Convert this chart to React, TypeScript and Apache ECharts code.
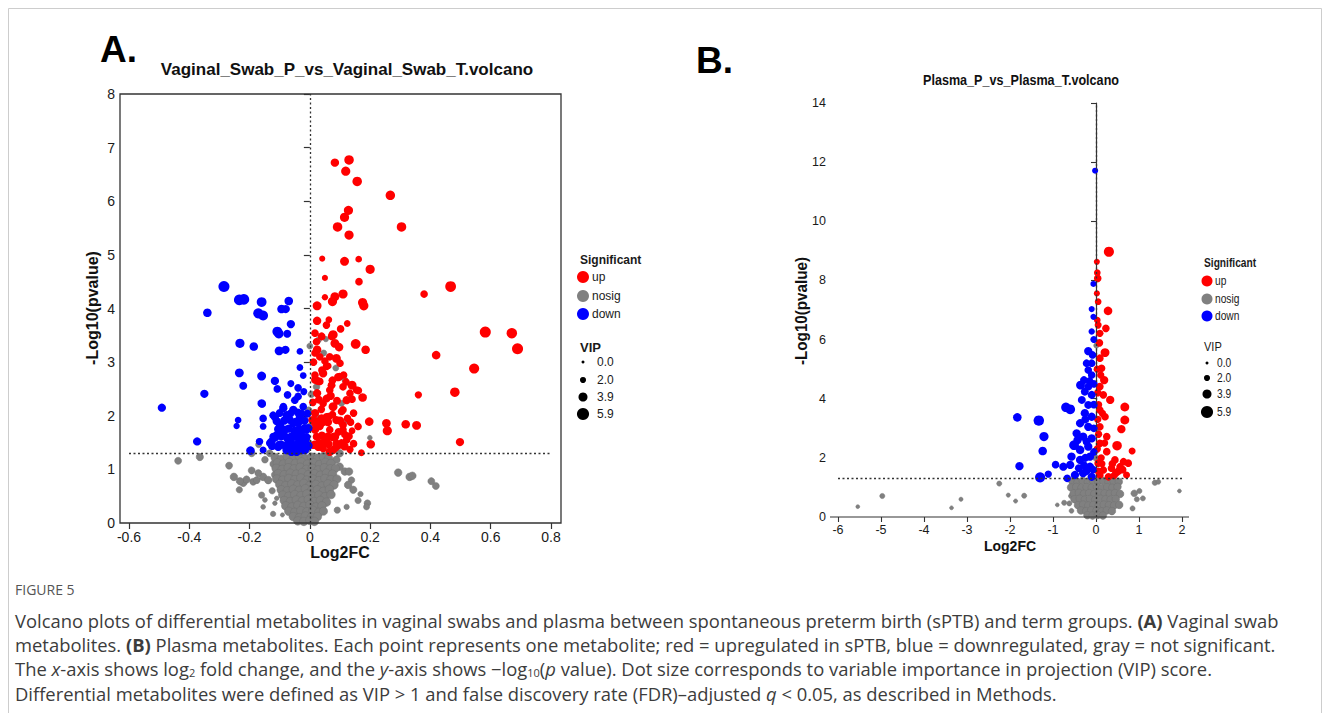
import React, { useEffect, useRef } from "react";
import * as echarts from "echarts";

// ---------- Panel A data: [log2FC, -log10(p), VIP] ----------
const A_UP: number[][] = [
  [0.083,6.72,3.5],[0.130,6.77,4.2],[0.119,6.56,4],[0.157,6.37,4.2],[0.267,6.11,4.2],[0.128,5.83,4],[0.115,5.70,4],[0.092,5.52,4.2],[0.304,5.52,4.2],[0.130,5.37,4],
  [0.041,4.93,2],[0.115,4.88,3.8],[0.162,4.92,2.4],[0.200,4.73,4],[0.050,4.57,2],[0.163,4.50,3],[0.467,4.41,5],[0.379,4.27,3],
  [0.050,4.21,2.2],[0.083,4.22,3.8],[0.110,4.27,4],[0.075,4.13,4],[0.175,4.11,4],[0.179,4.05,4],[0.024,4.05,3.8],
  [0.024,3.77,3.5],[0.055,3.69,3],[0.063,3.79,2.4],[0.124,3.72,2.4],[0.102,3.62,3],[0.582,3.56,5.2],[0.670,3.54,4.8],[0.689,3.25,5.2],
  [0.077,3.51,4],[0.039,3.48,3.2],[0.152,3.34,4.4],[0.185,3.23,3.6],[0.419,3.13,3.6],[0.083,3.35,3.8],[0.097,3.28,3.6],[0.024,3.23,3.6],[0.088,3.07,3.8],
  [0.545,2.88,4.6],[0.040,2.85,3],[0.061,2.93,2.4],[0.094,2.72,3.4],[0.112,2.76,3],[0.140,2.57,3.8],[0.161,2.47,3],[0.175,2.34,3.6],[0.481,2.44,4.2],[0.360,2.39,2.8],
  [0.072,2.57,3.2],[0.024,2.42,3.4],[0.069,2.37,3.4],[0.122,2.29,3.4],[0.044,2.23,3],[0.077,2.17,3.8],[0.105,2.08,3],
  [0.197,1.89,3.6],[0.254,1.86,3.6],[0.257,1.72,4],[0.318,1.84,3.6],[0.354,1.82,3.8],[0.498,1.51,3.4],[0.202,1.47,3.6],[0.140,1.72,2.4],[0.171,1.31,2.4],[0.133,1.37,2.8],
  [0.116,1.65,3],[0.105,1.49,3.2],[0.083,1.61,3.6],[0.110,1.83,3.2],[0.033,1.83,3.6],[0.017,1.74,3.4],[0.050,1.52,3.6],[0.028,1.42,3.4],[0.066,1.33,3.6],
  [0.044,2.79,3.4],[0.017,2.67,3.2],[0.033,3.10,3],[0.022,3.38,3],[0.061,1.98,3.4],[0.088,1.92,3.4],[0.017,2.05,3.4],[0.039,1.95,3.4],
  [0.072,3.48,3],[0.066,3.10,3],[0.055,2.92,3],[0.099,2.73,3],[0.033,2.64,3],[0.066,2.48,3],[0.110,2.54,3],[0.133,2.42,3],[0.155,2.48,3],
  [0.110,2.11,3],[0.055,1.98,3],[0.033,1.80,3],[0.066,1.74,3],[0.110,1.74,3],[0.022,1.61,3],[0.055,1.55,3],[0.088,1.49,3],[0.122,1.55,3],
  [0.044,1.39,3],[0.077,1.36,3],[0.017,1.86,3],[0.017,2.76,3],[0.017,3.17,3],[0.017,3.54,3],
  [0.030,1.50,3],[0.060,1.62,3],[0.095,1.70,3],[0.045,1.88,3],[0.075,2.02,3],[0.012,1.45,3],[0.085,1.40,3],[0.125,1.95,3],[0.145,2.05,3],[0.160,1.80,3],[0.038,2.12,3],[0.010,2.25,3],
  [0.015,1.46,3.4],[0.040,1.44,3.4],[0.062,1.47,3.4],[0.095,1.45,3.4],[0.115,1.43,3.4],[0.145,1.48,3],
  [0.040,1.63,3.4],[0.075,1.60,3.4],[0.130,1.62,3],
  [0.008,1.92,3.4],[0.020,1.90,3.4],[0.060,1.88,3.4],[0.100,1.91,3.4],[0.135,1.88,3],
  [0.030,2.30,3.2],[0.055,2.32,3.2],[0.090,2.28,3.2],[0.140,2.31,3],
  [0.025,2.65,3.2],[0.075,2.66,3.2],[0.120,2.63,3],
  [0.012,3.00,3],[0.050,3.02,3],[0.100,2.98,3],
];

const A_DOWN: number[][] = [
  [-0.285,4.41,5.2],[-0.234,4.16,5],[-0.219,4.17,5],[-0.160,4.12,4.4],[-0.340,3.92,3.6],[-0.171,3.91,4.6],[-0.155,3.87,4.4],[-0.094,3.99,3.6],[-0.080,3.99,3.4],[-0.070,4.14,3.6],[-0.063,3.71,3.4],
  [-0.108,3.57,4.4],[-0.103,3.53,4.2],[-0.075,3.53,3.2],[-0.232,3.35,4],[-0.186,3.29,3.6],[-0.102,3.21,3.8],[-0.081,3.23,3.4],[-0.033,3.20,2.4],[-0.033,2.90,2.4],[-0.022,2.75,2.4],
  [-0.234,2.80,3.8],[-0.160,2.74,3.8],[-0.221,2.56,3.2],[-0.116,2.65,3.4],[-0.108,2.50,3],[-0.074,2.39,3],[-0.350,2.41,3.4],[-0.039,2.52,3],
  [-0.160,2.23,3.4],[-0.491,2.15,3.4],[-0.088,2.14,3.4],[-0.155,1.95,3],[-0.238,1.92,2.4],[-0.243,1.81,2.2],[-0.155,1.80,2.4],[-0.374,1.52,3.4],[-0.197,1.35,3.6],[-0.166,1.52,2.6],[-0.155,1.36,2.6],
  [-0.116,1.98,3.4],[-0.110,1.64,3.4],[-0.127,1.52,3.4],[-0.083,1.74,3.4],[-0.061,1.61,3.6],[-0.039,1.49,3.6],[-0.028,1.36,3.6],[-0.077,1.36,3.6],[-0.055,1.86,3.4],[-0.033,1.98,3.4],[-0.022,2.17,3],[-0.050,2.29,3],
  [-0.099,1.80,3.4],[-0.077,2.01,3.4],[-0.011,1.74,3.4],[-0.011,1.42,3.6],[-0.094,1.46,3.4],[-0.044,1.33,3.6],
  [-0.158,2.22,3],[-0.168,1.52,2.6],[-0.039,2.36,3],[-0.055,2.11,3.4],[-0.088,2.17,3],[-0.122,2.01,3],[-0.028,2.05,3],[-0.099,1.83,3.4],[-0.066,1.92,3.4],[-0.039,1.86,3.4],[-0.017,1.77,3.4],
  [-0.122,1.61,3],[-0.088,1.67,3.4],[-0.055,1.61,3.6],[-0.028,1.58,3.6],[-0.105,1.42,3.4],[-0.072,1.42,3.6],[-0.044,1.39,3.6],[-0.017,1.36,3.6],[-0.061,1.33,3.6],[-0.133,1.49,3],
  [-0.063,2.60,2.6],[-0.020,2.45,2.6],[-0.030,1.65,3.6],[-0.070,1.50,3.6],[-0.015,1.55,3.6],[-0.050,1.72,3.6],
  [-0.125,1.44,3.6],[-0.100,1.46,3.6],[-0.080,1.44,3.6],[-0.060,1.47,3.6],[-0.040,1.45,3.6],[-0.020,1.46,3.6],[-0.005,1.44,3.6],
  [-0.115,1.60,3.6],[-0.095,1.62,3.6],[-0.075,1.59,3.6],[-0.045,1.62,3.6],[-0.012,1.60,3.6],
  [-0.105,1.75,3.4],[-0.070,1.76,3.4],[-0.035,1.74,3.4],[-0.005,1.77,3.4],
  [-0.110,1.90,3.4],[-0.085,1.91,3.4],[-0.045,1.89,3.4],[-0.018,1.91,3.4],
  [-0.100,2.05,3.2],[-0.065,2.04,3.2],[-0.040,2.06,3.2],[-0.008,2.04,3.2],
];

const A_NOSIG: number[][] = [
  [-0.437,1.16,2.6],[-0.365,1.23,2.8],[-0.268,1.07,2.6],[-0.193,0.98,2.6],[-0.252,0.86,3],[-0.221,0.75,3],[-0.234,0.62,2.2],[-0.188,0.77,2.6],[-0.155,0.86,3],[-0.138,0.80,3],
  [-0.160,0.52,2.2],[-0.149,0.43,1.2],[-0.155,0.30,1.2],[-0.122,0.17,1.6],[-0.116,0.37,1],[-0.110,0.46,1],[-0.091,0.15,0.8],[-0.149,1.18,2.4],[-0.193,1.30,2.6],[-0.133,1.30,2.6],
  [-0.171,0.93,2.6],[-0.210,0.81,2.8],[-0.232,0.78,2.8],[-0.176,0.80,2.6],[-0.125,0.60,2.2],[-0.120,1.10,3],[-0.115,0.90,3],
  [0.293,0.94,3],[0.331,0.86,3],[0.340,0.88,3],[0.403,0.78,2.6],[0.418,0.69,2.6],[0.191,0.37,2.4],[0.188,0.30,2],[0.168,0.54,1.6],[0.160,0.42,2.2],[0.122,0.30,1.6],[0.091,0.24,2.2],
  [0.138,0.80,2.4],[0.127,0.71,3],[0.144,0.62,2.8],[0.116,0.96,3],[0.099,1.05,3],[0.088,1.18,3],[0.099,1.30,3],[0.077,1.36,3],[0.130,0.96,3],
  [-0.115,1.22,3.6],[-0.095,1.19,3.6],[-0.075,1.24,3.6],[-0.055,1.21,3.6],[-0.035,1.25,3.6],[-0.015,1.20,3.6],[0.005,1.23,3.6],[0.025,1.21,3.6],[0.045,1.24,3.6],[0.062,1.20,3.6],
  [-0.108,1.12,3.6],[-0.088,1.10,3.6],[-0.068,1.13,3.6],[-0.048,1.11,3.6],[-0.028,1.14,3.6],[-0.008,1.10,3.6],[0.012,1.12,3.6],[0.032,1.09,3.6],[0.052,1.13,3.6],[0.070,1.11,3.6],
  [-0.112,1.02,3.6],[-0.092,1.00,3.6],[-0.072,1.03,3.6],[-0.052,1.01,3.6],[-0.032,1.04,3.6],[-0.012,1.00,3.6],[0.008,1.02,3.6],[0.028,0.99,3.6],[0.048,1.03,3.6],[0.068,1.01,3.6],[0.085,1.02,3.4],
  [-0.105,0.92,3.6],[-0.085,0.90,3.6],[-0.065,0.93,3.6],[-0.045,0.91,3.6],[-0.025,0.94,3.6],[-0.005,0.90,3.6],[0.015,0.92,3.6],[0.035,0.89,3.6],[0.055,0.93,3.6],[0.075,0.91,3.6],
  [-0.110,0.82,3.6],[-0.090,0.80,3.6],[-0.070,0.83,3.6],[-0.050,0.81,3.6],[-0.030,0.84,3.6],[-0.010,0.80,3.6],[0.010,0.82,3.6],[0.030,0.79,3.6],[0.050,0.83,3.6],[0.070,0.81,3.6],[0.090,0.82,3.4],
  [-0.100,0.72,3.6],[-0.080,0.70,3.6],[-0.060,0.73,3.6],[-0.040,0.71,3.6],[-0.020,0.74,3.6],[0.000,0.70,3.6],[0.020,0.72,3.6],[0.040,0.69,3.6],[0.060,0.73,3.6],[0.080,0.71,3.6],
  [-0.095,0.62,3.6],[-0.075,0.60,3.6],[-0.055,0.63,3.6],[-0.035,0.61,3.6],[-0.015,0.64,3.6],[0.005,0.60,3.6],[0.025,0.62,3.6],[0.045,0.59,3.6],[0.065,0.63,3.6],
  [-0.090,0.52,3.6],[-0.070,0.50,3.6],[-0.050,0.53,3.6],[-0.030,0.51,3.6],[-0.010,0.54,3.6],[0.010,0.50,3.6],[0.030,0.52,3.6],[0.050,0.49,3.6],[0.070,0.53,3.6],
  [-0.085,0.42,3.6],[-0.065,0.40,3.6],[-0.045,0.43,3.6],[-0.025,0.41,3.6],[-0.005,0.44,3.6],[0.015,0.40,3.6],[0.035,0.42,3.6],[0.055,0.39,3.6],
  [-0.080,0.32,3.6],[-0.060,0.30,3.6],[-0.040,0.33,3.6],[-0.020,0.31,3.6],[0.000,0.34,3.6],[0.020,0.30,3.6],[0.040,0.32,3.6],
  [-0.070,0.22,3.6],[-0.050,0.20,3.6],[-0.030,0.23,3.6],[-0.010,0.21,3.6],[0.010,0.24,3.6],[0.030,0.20,3.6],[0.045,0.22,3.4],
  [-0.055,0.12,3.6],[-0.035,0.10,3.6],[-0.015,0.13,3.6],[0.005,0.11,3.6],[0.025,0.12,3.6],
  [-0.040,0.04,3.6],[-0.020,0.03,3.6],[0.000,0.05,3.6],[0.015,0.03,3.6],
  [0.028,3.41,2],[0.053,3.43,1.6],[0.086,2.89,2],[0.116,2.67,2],[0.105,2.23,2],[0.046,3.17,2],[0.022,2.54,2.4],[0.022,1.98,2.4],[0.199,1.59,1.2],[0.122,1.90,1],
  [-0.005,1.50,2.6],[0.000,1.80,2.6],[-0.004,2.10,2.6],[0.005,2.40,2.4],[0.000,3.30,2],[-0.010,1.38,3],[-0.170,1.46,2],
];

// ---------- Panel B data ----------
const B_UP: number[][] = [
  [0.30,8.97,4.6],[0.02,8.63,2],[0.03,8.26,2.4],[0.04,8.07,3],[0.02,7.56,2],[0.05,7.28,2.4],[0.28,6.97,3.6],[0.03,6.66,2.4],[0.05,6.49,2.6],[0.23,6.38,3],
  [0.09,6.21,2.8],[0.08,5.89,3],[0.21,5.56,3.8],[0.09,5.37,3],[0.13,5.03,3],[0.19,4.63,3.4],[0.09,4.41,3],[0.17,4.13,3],[0.33,3.96,3.4],[0.67,3.72,3.8],
  [0.67,3.28,3.8],[0.09,3.62,3],[0.21,3.39,3],[0.59,2.97,3.4],[0.09,3.05,3],[0.25,2.72,3],[0.49,2.41,4.2],[0.84,2.23,2.6],[0.09,2.49,3],[0.25,2.21,3],
  [0.44,1.93,3],[0.64,1.87,3],[0.56,1.70,3],[0.36,1.65,3],[0.71,1.42,2.6],[0.46,1.48,3],[0.17,1.59,3],[0.05,1.82,3],[0.29,1.36,3],[0.09,1.42,3],[0.75,1.82,3],
  [0.03,5.00,2.8],[0.04,4.20,2.8],[0.06,3.80,2.8],[0.04,3.30,2.8],[0.06,2.80,2.8],[0.03,2.30,2.8],[0.12,2.00,2.8],[0.05,1.55,2.8],[0.15,3.50,2.8],[0.11,4.80,2.8],
  [0.20,2.50,2.8],[0.14,1.80,2.6],[0.38,1.80,3],[0.52,1.55,3],[0.62,1.60,3],[0.42,1.40,2.8],
];

const B_DOWN: number[][] = [
  [-0.02,11.71,2],[-0.06,7.88,2],[-0.10,7.03,2],[-0.06,6.77,2],[-0.10,6.27,2.2],[-0.18,5.61,3.4],[-0.08,5.48,3],[-0.10,5.20,3],[-0.18,4.97,3],[-0.10,4.80,3],
  [-0.28,4.63,3.2],[-0.36,4.46,3.8],[-0.18,4.41,3.2],[-0.26,4.24,3.2],[-0.10,4.13,3.2],[-0.33,3.96,3.2],[-0.18,3.79,3.2],[-0.70,3.71,4.2],[-0.60,3.64,4.4],[-1.83,3.37,3.6],
  [-1.33,3.26,4.8],[-0.26,3.51,3.4],[-0.10,3.39,3.4],[-0.37,3.17,3.4],[-0.18,3.05,3.4],[-1.21,2.72,4],[-0.45,2.83,3.4],[-0.30,2.72,3.4],[-0.10,2.66,3.4],[-0.51,2.43,4.4],
  [-0.37,2.27,3.6],[-0.18,2.38,3.4],[-1.24,2.23,3.6],[-0.57,2.04,3.4],[-0.37,1.93,3.4],[-0.14,2.04,3.4],[-1.78,1.72,3.4],[-0.94,1.77,3],[-0.76,1.70,3.4],[-0.60,1.76,3.4],
  [-1.11,1.45,2.8],[-1.30,1.34,4.6],[-0.67,1.31,3],[-0.30,1.48,3.4],[-0.10,1.36,3.4],[-0.49,1.42,3.4],[-0.14,1.70,3.4],
  [-0.05,6.00,2.6],[-0.22,5.20,3],[-0.05,4.50,3],[-0.25,3.30,3.2],[-0.05,3.00,3],[-0.22,2.55,3.2],[-0.05,2.20,3],[-0.25,2.00,3.2],[-0.07,1.60,3],[-0.22,1.55,3.2],
  [-0.40,1.65,3.2],[-0.05,3.80,3],[-0.15,4.60,3],[-0.43,2.60,3.4],[-0.28,1.75,3.2],
];

const B_NOSIG: number[][] = [
  [-5.54,0.35,0.6],[-4.97,0.71,1.4],[-3.36,0.31,0.6],[-3.14,0.60,0.8],[-2.25,1.13,1.4],[-2.04,0.74,0.8],[-1.87,0.54,0.8],[-1.67,0.72,1.4],[-0.90,0.41,0.6],[-0.74,0.48,1.4],
  [-0.62,0.46,1.4],[-0.58,0.71,1.4],[-0.57,0.21,1.2],[0.89,0.80,2.4],[1.01,0.88,1.4],[0.95,0.60,1.4],[1.09,0.63,1.4],[0.85,0.29,1.4],[1.37,1.16,1.6],[1.45,1.19,1.2],[1.94,0.88,0.6],
  [-0.55,1.21,3],[-0.43,1.18,3],[-0.31,1.22,3],[-0.19,1.19,3],[-0.07,1.23,3],[0.05,1.20,3],[0.17,1.22,3],[0.29,1.18,3],[0.41,1.21,3],[0.53,1.19,3],
  [-0.58,1.00,3],[-0.46,1.02,3],[-0.34,0.98,3],[-0.22,1.01,3],[-0.10,0.99,3],[0.02,1.02,3],[0.14,0.98,3],[0.26,1.01,3],[0.38,0.99,3],[0.50,1.02,3],
  [-0.52,0.80,3],[-0.40,0.82,3],[-0.28,0.79,3],[-0.16,0.81,3],[-0.04,0.78,3],[0.08,0.82,3],[0.20,0.80,3],[0.32,0.79,3],[0.44,0.81,3],[0.56,0.78,3],
  [-0.50,0.60,3],[-0.38,0.62,3],[-0.26,0.59,3],[-0.14,0.61,3],[-0.02,0.58,3],[0.10,0.62,3],[0.22,0.60,3],[0.34,0.59,3],[0.46,0.61,3],
  [-0.42,0.40,3],[-0.30,0.42,3],[-0.18,0.39,3],[-0.06,0.41,3],[0.06,0.38,3],[0.18,0.42,3],[0.30,0.40,3],[0.42,0.39,3],[0.54,0.41,3],
  [-0.35,0.22,3],[-0.23,0.20,3],[-0.11,0.23,3],[0.01,0.21,3],[0.13,0.19,3],[0.25,0.22,3],[0.37,0.20,3],
  [-0.20,0.06,3],[-0.08,0.05,3],[0.04,0.07,3],[0.16,0.05,3],
  [0.01,5.80,1.6],[0.02,3.00,2],[-0.01,2.00,2],
];

// ---------- axes, legend labels ----------
const THRESHOLD = 1.3;
const SIG_LABELS = ["up", "nosig", "down"];
const SIG_COLORS = ["#ff0000", "#808080", "#0000ff"];
const VIP_VALUES = [0.0, 2.0, 3.9, 5.9];
const VIP_LABELS = ["0.0", "2.0", "3.9", "5.9"];
const A_TITLE = "Vaginal_Swab_P_vs_Vaginal_Swab_T.volcano";
const B_TITLE = "Plasma_P_vs_Plasma_T.volcano";
const Y_NAME = "-Log10(pvalue)";
const X_NAME = "Log2FC";
const CAPTION_LINES = [
  "Volcano plots of differential metabolites in vaginal swabs and plasma between spontaneous preterm birth (sPTB) and term groups. {b|(A)} Vaginal swab",
  "metabolites. {b|(B)} Plasma metabolites. Each point represents one metabolite; red = upregulated in sPTB, blue = downregulated, gray = not significant.",
  "The {i|x}-axis shows log{s|2} fold change, and the {i|y}-axis shows −log{s|10}({i|p} value). Dot size corresponds to variable importance in projection (VIP) score.",
  "Differential metabolites were defined as VIP > 1 and false discovery rate (FDR)–adjusted {i|q} < 0.05, as described in Methods.",
];

const vipSize = (v: number) => 3 + v * 1.55;

const ARIAL = '"Liberation Sans", Arial, sans-serif';
const CAP = '"Open Sans", "Noto Sans", sans-serif';
const CAP_SIZE = 18.4;

function txt(x: number, y: number, text: string, font: string, opts: any = {}) {
  return {
    type: "text",
    x,
    y,
    rotation: opts.rotation || 0,
    scaleX: opts.scaleX || 1,
    style: {
      text,
      font,
      fill: opts.fill || "#1a1a1a",
      align: opts.align || "left",
      verticalAlign: opts.va || "middle",
      textAlign: opts.align || "left",
      textVerticalAlign: opts.va || "middle",
      rich: opts.rich,
    },
  };
}

export default function App() {
  const ref = useRef<HTMLDivElement>(null);

  useEffect(() => {
    if (!ref.current) return;
    const chart = echarts.init(ref.current, undefined, { renderer: "svg" });

    const A = { left: 129, top: 94, width: 422, height: 429, frameL: 120, frameR: 561 };
    const B = { left: 838, top: 103, width: 344, height: 414, axisL: 830, axisR: 1189 };

    const markLine = {
      silent: true,
      symbol: "none",
      label: { show: false },
      lineStyle: { type: [2, 2.5], color: "#333", width: 1.3 },
      data: [{ yAxis: THRESHOLD }, { xAxis: 0 }],
    };

    const mkSeries = (data: number[][], idx: number, gi: number, withMark: boolean) => ({
      type: "scatter",
      xAxisIndex: gi,
      yAxisIndex: gi,
      data,
      symbol: "circle",
      symbolSize: (v: number[]) => vipSize(v[2]),
      itemStyle: idx === 1
        ? { color: "#808080", borderColor: "#727272", borderWidth: 0.5, opacity: 1 }
        : { color: SIG_COLORS[idx], opacity: 1 },
      emphasis: { disabled: true },
      markLine: withMark ? markLine : undefined,
      z: idx === 1 ? 2 : 3,
    });

    const legend = (x: number, sigY: number[], vipY: number[], titleY: number, vipTitleY: number, fs: number, r: number, textDx: number, vipDx: number, vipBold: boolean, sx: number) => {
      const els: any[] = [];
      els.push(txt(x - 3, titleY, "Significant", `bold ${fs}px ${ARIAL}`, { scaleX: sx }));
      SIG_LABELS.forEach((l, i) => {
        els.push({ type: "circle", shape: { cx: x, cy: sigY[i], r }, style: { fill: SIG_COLORS[i] } });
        els.push(txt(x + textDx, sigY[i], l, `${fs}px ${ARIAL}`, { scaleX: sx }));
      });
      els.push(txt(x - 3, vipTitleY, "VIP", `${vipBold ? "bold " : ""}${fs + 1}px ${ARIAL}`, { scaleX: sx }));
      VIP_LABELS.forEach((l, i) => {
        els.push({ type: "circle", shape: { cx: x, cy: vipY[i], r: vipSize(VIP_VALUES[i]) / 2 }, style: { fill: "#000" } });
        els.push(txt(x + vipDx, vipY[i], l, `${fs}px ${ARIAL}`, { scaleX: sx }));
      });
      return els;
    };

    const capRich = {
      b: { fontFamily: CAP, fontSize: CAP_SIZE, fontWeight: "bold", fill: "#3c3c3c" },
      i: { fontFamily: CAP, fontSize: CAP_SIZE, fontStyle: "italic", fill: "#3c3c3c" },
      s: { fontFamily: CAP, fontSize: 11, fill: "#3c3c3c", verticalAlign: "bottom", padding: [8, 0, 0, 0] },
    };

    const graphics: any[] = [
      { type: "rect", shape: { x: 8.5, y: 8.5, width: 1313, height: 720 }, style: { fill: "none", stroke: "#cdcdcd", lineWidth: 1 }, silent: true },
      { type: "rect", shape: { x: A.frameL, y: A.top, width: A.frameR - A.frameL, height: A.height }, style: { fill: "none", stroke: "#333", lineWidth: 1.3 }, z: 10 },
      { type: "line", shape: { x1: B.axisL, y1: B.top + B.height, x2: B.axisR, y2: B.top + B.height }, style: { stroke: "#333", lineWidth: 1.2 }, z: 10 },
      txt(100, 49, "A.", `bold 37px ${ARIAL}`, { fill: "#000" }),
      txt(696, 60, "B.", `bold 37px ${ARIAL}`, { fill: "#000" }),
      txt(347, 69, A_TITLE, `bold 17px ${ARIAL}`, { align: "center", fill: "#111" }),
      txt(1021, 80, B_TITLE, `bold 15px ${ARIAL}`, { align: "center", fill: "#111", scaleX: 0.84 }),
      txt(92, 308, Y_NAME, `bold 16px ${ARIAL}`, { align: "center", rotation: Math.PI / 2, fill: "#111" }),
      txt(340, 552, X_NAME, `bold 16px ${ARIAL}`, { align: "center", fill: "#111" }),
      txt(801, 311, Y_NAME, `bold 16px ${ARIAL}`, { align: "center", rotation: Math.PI / 2, fill: "#111", scaleX: 0.95 }),
      txt(1010, 546, X_NAME, `bold 14px ${ARIAL}`, { align: "center", fill: "#111" }),
      ...legend(583, [277, 296, 314], [362, 380, 397, 414], 260, 347, 12, 6, 9, 14, true, 1),
      ...legend(1207, [281, 299, 316], [363, 378, 394, 412], 263, 347, 12, 5.5, 8, 10, false, 0.85),
      txt(15, 589, "FIGURE 5", `14px ${CAP}`, { fill: "#555" }),
      ...CAPTION_LINES.map((l, i) =>
        txt(15, 620 + i * 24.4, l, `${CAP_SIZE}px ${CAP}`, { fill: "#3c3c3c", rich: capRich })
      ),
    ];

    const tickLabel = (fs: number) => ({ fontSize: fs, color: "#1a1a1a", fontFamily: ARIAL });

    chart.setOption({
      animation: false,
      backgroundColor: "#fff",
      grid: [
        { left: A.left, top: A.top, width: A.width, height: A.height },
        { left: B.left, top: B.top, width: B.width, height: B.height },
      ],
      xAxis: [
        {
          gridIndex: 0, type: "value", min: -0.6, max: 0.8, interval: 0.2,
          axisLine: { show: false },
          axisTick: { show: true, length: 6, lineStyle: { color: "#333", width: 1.2 } },
          axisLabel: { ...tickLabel(14), margin: 7, formatter: (v: number) => String(+v.toFixed(1)) },
          splitLine: { show: false },
        },
        {
          gridIndex: 1, type: "value", min: -6, max: 2, interval: 1,
          axisLine: { show: false },
          axisTick: { show: true, length: 5, lineStyle: { color: "#333", width: 1.1 } },
          axisLabel: { ...tickLabel(12.5), margin: 6 },
          splitLine: { show: false },
        },
      ],
      yAxis: [
        {
          gridIndex: 0, type: "value", min: 0, max: 8, interval: 1, offset: A.left - A.frameL,
          axisLine: { show: false },
          axisTick: { show: true, length: 6, lineStyle: { color: "#333", width: 1.2 } },
          axisLabel: { ...tickLabel(14), margin: 5 },
          splitLine: { show: false },
        },
        {
          gridIndex: 1, type: "value", min: 0, max: 14, interval: 2, offset: B.left - B.axisL,
          axisLine: { show: true, lineStyle: { color: "#333", width: 1.2 } },
          axisTick: { show: true, length: 5, lineStyle: { color: "#333", width: 1.1 } },
          axisLabel: { ...tickLabel(12.5), margin: 4 },
          splitLine: { show: false },
        },
      ],
      series: [
        mkSeries(A_NOSIG, 1, 0, false),
        mkSeries(A_UP, 0, 0, false),
        mkSeries(A_DOWN, 2, 0, true),
        mkSeries(B_NOSIG, 1, 1, false),
        mkSeries(B_UP, 0, 1, false),
        mkSeries(B_DOWN, 2, 1, true),
      ],
      graphic: graphics,
    });

    return () => chart.dispose();
  }, []);

  return (
    <div
      ref={ref}
      style={{ position: "fixed", left: 0, top: 0, width: 1330, height: 713, background: "#fff" }}
    />
  );
}
